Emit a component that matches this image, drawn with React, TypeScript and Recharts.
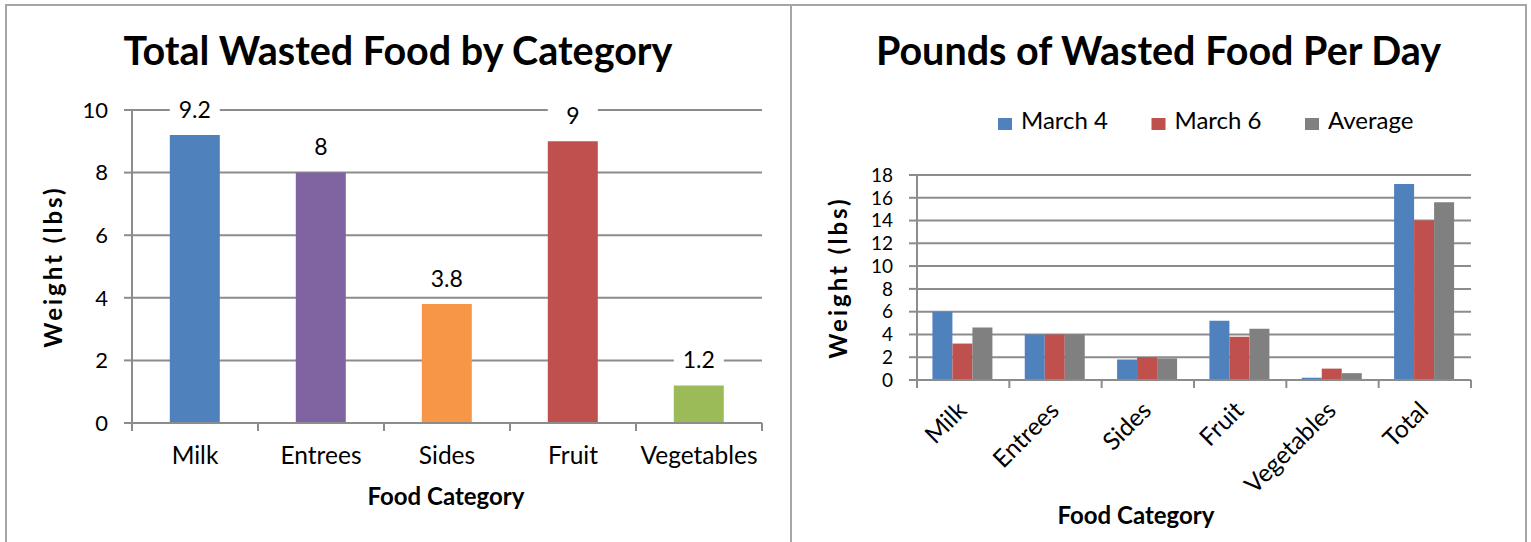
import React from 'react';
import { BarChart, Bar, XAxis, YAxis, CartesianGrid, Cell, LabelList, Legend } from 'recharts';

const FONT = 'Lato, "Open Sans", sans-serif';
const GRID = '#8c8c8c';

// left chart: total wasted food by category
const categories = ['Milk', 'Entrees', 'Sides', 'Fruit', 'Vegetables'];
const totalWeights = [9.2, 8, 3.8, 9, 1.2];
const categoryColors = ['#4F81BD', '#8064A2', '#F79646', '#C0504D', '#9BBB59'];
const totalTicks = [0, 2, 4, 6, 8, 10];

// right chart: pounds per day
const dayCategories = ['Milk', 'Entrees', 'Sides', 'Fruit', 'Vegetables', 'Total'];
const march4 = [6, 4, 1.8, 5.2, 0.2, 17.2];
const march6 = [3.2, 4, 2, 3.8, 1, 14];
const average = [4.6, 4, 1.9, 4.5, 0.6, 15.6];
const dayTicks = [0, 2, 4, 6, 8, 10, 12, 14, 16, 18];
const seriesKeys = ['march4', 'march6', 'average'];
const seriesNames = ['March 4', 'March 6', 'Average'];
const seriesColors = ['#4F81BD', '#C0504D', '#808080'];

const totalData = categories.map((name, i) => ({ name, value: totalWeights[i] }));
const dayData = dayCategories.map((name, i) => ({
  name,
  march4: march4[i],
  march6: march6[i],
  average: average[i],
}));

const LEFT_GAP = 24;

const LeftTick = (props: any) => {
  const { x, y, payload, index, visibleTicksCount } = props;
  const half = payload?.offset ?? 63;
  const axisY = y - LEFT_GAP;
  return (
    <g>
      <line x1={x - half} x2={x - half} y1={axisY} y2={axisY + 8} stroke={GRID} strokeWidth={2} />
      {index === visibleTicksCount - 1 && (
        <line x1={x + half} x2={x + half} y1={axisY} y2={axisY + 8} stroke={GRID} strokeWidth={2} />
      )}
      <text x={x} y={y} dy="0.71em" textAnchor="middle" fill="#000" fontSize={24.5} fontFamily={FONT}>
        {payload.value}
      </text>
    </g>
  );
};

const RightTick = (props: any) => {
  const { x, y, payload, index, visibleTicksCount } = props;
  const half = payload?.offset ?? 46;
  const ax = x + 5;
  const ay = y + 32;
  return (
    <g>
      <line x1={x - half} x2={x - half} y1={y} y2={y + 8} stroke={GRID} strokeWidth={2} />
      {index === visibleTicksCount - 1 && (
        <line x1={x + half} x2={x + half} y1={y} y2={y + 8} stroke={GRID} strokeWidth={2} />
      )}
      <text
        x={ax}
        y={ay}
        textAnchor="end"
        transform={`rotate(-45, ${ax}, ${ay})`}
        fill="#000"
        fontSize={24.5}
        fontFamily={FONT}
      >
        {payload.value}
      </text>
    </g>
  );
};

const DataLabel = (props: any) => {
  const vb = props.viewBox || props;
  const { x, y, width } = vb;
  const cx = x + width / 2;
  const cy = y - 25.5;
  return (
    <g>
      <rect x={x} y={cy - 13} width={width} height={26} fill="#fff" />
      <text x={cx} y={cy} dy="0.36em" textAnchor="middle" fill="#000" fontSize={23} fontFamily={FONT}>
        {props.value}
      </text>
    </g>
  );
};

const LegendContent = () => (
  <svg width={460} height={40} style={{ display: 'block' }}>
    {seriesNames.map((name, i) => (
      <g key={name} transform={`translate(${i * 153.5}, 0)`}>
        <rect x={0} y={18} width={14} height={12} fill={seriesColors[i]} />
        <text x={23} y={29} fill="#000" fontSize={24} fontFamily={FONT}>
          {name}
        </text>
      </g>
    ))}
  </svg>
);

export default function App() {
  const axisStroke = { stroke: GRID, strokeWidth: 2 };
  return (
    <div style={{ position: 'absolute', left: 0, top: 0, width: 1531, height: 542, background: '#fff', overflow: 'hidden' }}>
      <div style={{ position: 'absolute', left: 5, top: 4, width: 787, height: 600, border: '2px solid #a6a6a6', boxSizing: 'border-box' }} />
      <div style={{ position: 'absolute', left: 790, top: 4, width: 737, height: 600, border: '2px solid #a6a6a6', boxSizing: 'border-box' }} />

      <div style={{ position: 'absolute', left: 0, top: 0 }}>
        <BarChart
          width={791}
          height={542}
          data={totalData}
          margin={{ top: 110, right: 29, bottom: 0, left: 0 }}
          barCategoryGap="30%"
        >
          <CartesianGrid vertical={false} stroke={GRID} strokeWidth={2} />
          <XAxis
            dataKey="name"
            height={119}
            interval={0}
            tickLine={false}
            tickSize={0}
            tickMargin={LEFT_GAP}
            axisLine={axisStroke}
            tick={<LeftTick />}
          />
          <YAxis
            domain={[0, 10]}
            ticks={totalTicks}
            interval={0}
            width={132}
            tickSize={8}
            tickMargin={16}
            axisLine={axisStroke}
            tickLine={axisStroke}
            tick={{ fill: '#000', fontSize: 22, fontFamily: FONT }}
          />
          <Bar dataKey="value" isAnimationActive={false}>
            {totalData.map((d, i) => (
              <Cell key={d.name} fill={categoryColors[i]} />
            ))}
            <LabelList dataKey="value" content={<DataLabel />} />
          </Bar>
        </BarChart>
      </div>

      <div style={{ position: 'absolute', left: 791, top: 0 }}>
        <BarChart
          width={735}
          height={542}
          data={dayData}
          margin={{ top: 175, right: 55, bottom: 0, left: 0 }}
          barCategoryGap="16.7%"
          barGap={0}
        >
          <CartesianGrid vertical={false} stroke={GRID} strokeWidth={2} />
          <XAxis
            dataKey="name"
            height={162}
            interval={0}
            tickLine={false}
            tickSize={0}
            tickMargin={0}
            axisLine={axisStroke}
            tick={<RightTick />}
          />
          <YAxis
            domain={[0, 18]}
            ticks={dayTicks}
            interval={0}
            width={126}
            tickSize={8}
            tickMargin={16}
            axisLine={axisStroke}
            tickLine={axisStroke}
            tick={{ fill: '#000', fontSize: 19, fontFamily: FONT }}
          />
          <Legend
            layout="horizontal"
            verticalAlign="middle"
            align="center"
            wrapperStyle={{ left: 207, top: 100, width: 460 }}
            content={<LegendContent />}
          />
          {seriesKeys.map((k, i) => (
            <Bar key={k} dataKey={k} name={seriesNames[i]} fill={seriesColors[i]} isAnimationActive={false} />
          ))}
        </BarChart>
      </div>

      <svg width={1531} height={542} style={{ position: 'absolute', left: 0, top: 0, pointerEvents: 'none' }}>
        <g fontFamily={FONT} fontWeight="bold" fill="#000">
          <text x={398} y={65} textAnchor="middle" fontSize={39.5}>Total Wasted Food by Category</text>
          <text x={1158.5} y={65} textAnchor="middle" fontSize={39.5}>Pounds of Wasted Food Per Day</text>
          <text x={446} y={505} textAnchor="middle" fontSize={24}>Food Category</text>
          <text x={1136} y={524} textAnchor="middle" fontSize={24}>Food Category</text>
          <text x={62} y={266.5} textAnchor="middle" fontSize={24} letterSpacing={3} transform="rotate(-90, 62, 266.5)">Weight (lbs)</text>
          <text x={847} y={277.5} textAnchor="middle" fontSize={24} letterSpacing={3} transform="rotate(-90, 847, 277.5)">Weight (lbs)</text>
        </g>
      </svg>
    </div>
  );
}
